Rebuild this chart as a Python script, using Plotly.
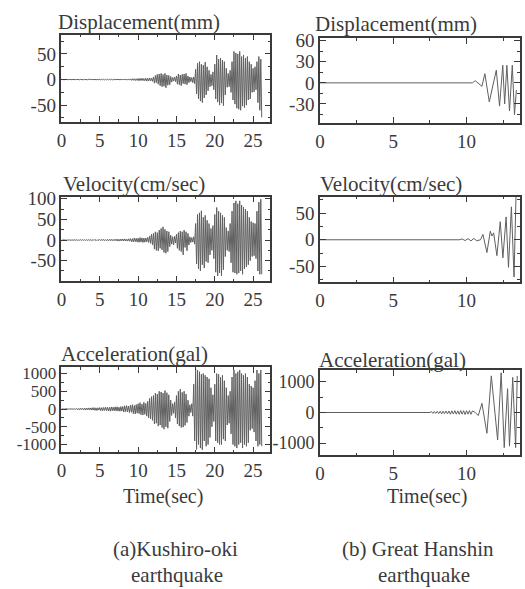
import numpy as np
import plotly.graph_objects as go

# ---------------- DATA ----------------
# Kushiro-oki: successive peak/trough values, one every DT_A seconds
DT_A = 0.125
kushiro_disp = [
    0.3,-0.2,0.2,-0.3,0.2,-0.2,0.3,-0.2,
    0.2,-0.3,0.3,-0.2,0.2,-0.3,0.2,-0.2,
    0.3,-0.3,0.4,-0.3,0.3,-0.4,0.3,-0.3,
    0.4,-0.3,0.3,-0.4,0.5,-0.4,0.3,-0.4,
    0.5,-0.4,0.6,-0.5,0.4,-0.5,0.6,-0.4,
    0.5,-0.6,0.7,-0.5,0.6,-0.7,0.5,-0.6,
    0.6,-0.5,0.8,-0.7,0.6,-0.8,0.7,-0.6,
    0.8,-0.7,0.9,-0.8,1.0,-0.8,0.7,-0.9,
    1.0,-0.9,1.2,-1.0,0.9,-1.1,1.2,-1.0,
    1.2,-1.5,1.8,-1.4,1.6,-2.0,1.5,-1.7,
    2.0,-2.4,2.2,-1.8,2.5,-2.2,1.9,-2.3,
    2.6,-3.0,2.4,-2.8,3.2,-2.6,3.0,-3.4,
    5,-7,8,-6,10,-9,11,-12,
    12,-14,10,-13,12,-16,9,-11,
    8,-10,6,-5,4,-3,5,-4,
    7,-9,11,-10,9,-12,10,-8,
    11,-9,12,-10,7,-6,5,-4,
    4,-6,5,-8,20,-28,32,-38,
    35,-42,30,-45,28,-36,34,-30,
    25,-22,18,-14,10,-12,15,-20,
    30,-38,48,-44,40,-50,42,-46,
    38,-51,35,-30,22,-15,12,-14,
    18,-25,35,-40,55,-48,52,-56,
    50,-58,55,-60,45,-52,48,-55,
    42,-50,45,-40,35,-38,30,-25,
    22,-24,25,-20,35,-45,45,-60,
    40,-74,
]
kushiro_vel = [
    0.5,-0.5,0.6,-0.4,0.5,-0.6,0.4,-0.5,
    0.6,-0.5,0.5,-0.7,0.6,-0.5,0.7,-0.6,
    0.7,-0.8,0.6,-0.7,0.9,-0.7,0.8,-0.6,
    0.8,-1.0,0.9,-0.8,1.1,-0.9,1.0,-1.2,
    1.0,-1.2,1.3,-1.1,1.0,-1.3,1.2,-1.0,
    1.4,-1.2,1.5,-1.3,1.6,-1.4,1.2,-1.5,
    1.5,-1.8,1.6,-1.4,1.9,-1.7,1.5,-1.6,
    2.0,-1.8,2.2,-2.5,1.9,-2.2,2.4,-2.0,
    2.5,-2.2,2.8,-2.4,2.2,-2.6,3.0,-2.5,
    3.5,-4.0,3.2,-4.5,5.0,-3.8,4.2,-5.0,
    4.5,-5.5,6.0,-4.8,5.2,-6.0,4.6,-5.2,
    5.0,-4.4,6.2,-5.8,10,-8,14,-12,
    16,-22,20,-25,18,-26,24,-20,
    28,-24,32,-30,26,-32,22,-28,
    20,-16,12,-10,8,-12,9,-7,
    14,-20,18,-25,22,-28,20,-36,
    24,-18,20,-26,16,-12,8,-6,
    6,-5,8,-10,40,-58,62,-70,
    66,-75,71,-60,55,-68,60,-52,
    48,-55,40,-36,28,-25,35,-45,
    62,-78,79,-87,70,-80,66,-87,
    60,-72,55,-40,30,-25,22,-28,
    40,-55,70,-78,90,-80,95,-83,
    88,-80,95,-75,85,-83,80,-70,
    75,-65,70,-60,55,-50,45,-40,
    42,-38,40,-45,70,-75,92,-83,
    99,-83,
]
kushiro_acc = [
    5,-5,6,-4,5,-6,4,-5,
    8,-10,12,-9,10,-12,9,-11,
    15,-20,18,-22,25,-18,20,-24,
    25,-30,28,-22,32,-26,30,-28,
    35,-30,40,-38,32,-42,36,-30,
    40,-45,38,-50,45,-40,52,-46,
    50,-55,45,-60,58,-48,55,-50,
    60,-52,65,-58,50,-62,68,-55,
    70,-85,90,-75,95,-80,85,-100,
    110,-90,120,-130,100,-140,125,-115,
    150,-130,180,-160,140,-170,190,-150,
    160,-200,220,-250,300,-280,350,-320,
    380,-420,450,-400,420,-480,500,-450,
    480,-520,450,-570,520,-500,460,-540,
    400,-350,250,-180,150,-120,200,-250,
    380,-420,500,-480,560,-520,470,-510,
    500,-460,420,-380,250,-200,120,-100,
    150,-200,700,-900,1140,-1140,1100,-1000,
    1050,-1100,980,-1150,1000,-900,950,-1050,
    900,-1000,850,-800,600,-500,400,-350,
    700,-900,1000,-950,980,-1000,900,-1000,
    950,-850,800,-900,600,-450,380,-400,
    500,-700,900,-1000,1100,-1050,1000,-1100,
    1050,-1000,1100,-950,1000,-1100,950,-1000,
    1000,-1050,900,-950,700,-600,650,-550,
    600,-650,800,-900,1100,-1050,1000,-1000,
    1100,-1050,
]

# Great Hanshin: (time, value) of read peaks/troughs
hanshin_disp_t = [0, 10.4, 10.6, 10.8, 11.05, 11.25, 11.55, 12.03, 12.25, 12.47, 12.6, 12.75, 12.93, 13.12, 13.27, 13.4]
hanshin_disp_v = [0, 0, 3, 0, -5, 13, -27, 18, -33, 25, -30, 25, -40, 25, -45, -10]

hanshin_vel_t = [0, 9.5, 9.7, 9.9, 10.1, 10.3, 10.5, 10.7, 10.95, 11.12, 11.39, 11.62, 11.73, 11.85, 12.07, 12.3, 12.48, 12.7, 12.86, 13.06, 13.24, 13.38]
hanshin_vel_v = [0, 0, 1.5, -1.5, 2, -2, 2.5, -2, 0, 10, -24, 16, 7, 13, -30, 34, -34, 43, -52, 62, -70, 90]

hanshin_acc_t = [0, 7.5, 7.6, 7.7, 7.8, 7.9, 8.0, 8.1, 8.2, 8.3, 8.4, 8.5, 8.6, 8.7, 8.8, 8.9,
                 9.0, 9.1, 9.2, 9.3, 9.4, 9.5, 9.6, 9.7, 9.8, 9.9, 10.0, 10.1, 10.2, 10.3, 10.4,
                 10.6, 10.8, 11.05, 11.39, 11.69, 12.12, 12.36, 12.57, 12.8, 12.93, 13.15, 13.35, 13.46]
hanshin_acc_v = [0, 0, 30, -30, 35, -30, 40, -35, 40, -45, 45, -40, 50, -45, 50, -55,
                 55, -50, 60, -55, 55, -60, 65, -55, 60, -65, 60, -55, 65, -60, 50,
                 0, -100, 300, -680, 1200, -900, 1300, -1150, 780, -1100, 1150, -1150, 1200]

# tick labels
disp_a_ticks = [-50, 0, 50]
vel_a_ticks = [-50, 0, 50, 100]
acc_a_ticks = [-1000, -500, 0, 500, 1000]
disp_b_ticks = [-30, 0, 30, 60]
vel_b_ticks = [-50, 0, 50]
acc_b_ticks = [-1000, 0, 1000]
time_a_ticks = [0, 5, 10, 15, 20, 25]
time_b_ticks = [0, 5, 10]

titles = ["Displacement(mm)", "Velocity(cm/sec)", "Acceleration(gal)"]
xlabel = "Time(sec)"
caption_a = ["(a)Kushiro-oki", "earthquake"]
caption_b = ["(b) Great Hanshin", "earthquake"]

# ---------------- FIGURE ----------------
W, H = 525, 589
FONT = "Liberation Serif, 'Times New Roman', Times, 'DejaVu Serif', serif"
INK = "#3a3a3a"
TRACE = "#606060"

def py(p):
    return 1 - p / H

def px(p):
    return p / W

def lbl(v):
    return str(v)  # plain hyphen minus

fig = go.Figure()

ta = [i * DT_A for i in range(len(kushiro_disp))]
series = [
    (ta, kushiro_disp), (hanshin_disp_t, hanshin_disp_v),
    (ta, kushiro_vel), (hanshin_vel_t, hanshin_vel_v),
    (ta, kushiro_acc), (hanshin_acc_t, hanshin_acc_v),
]
for i, (t, v) in enumerate(series):
    k = "" if i == 0 else str(i + 1)
    fig.add_trace(go.Scatter(x=t, y=v, mode="lines",
                             line=dict(color=TRACE, width=1),
                             xaxis="x" + k, yaxis="y" + k, showlegend=False,
                             hoverinfo="skip"))

# panel geometry: (x-domain px, y-domain px, x range, y range, yticks, minor y, xticks, minor x, ytick font)
panels = [
    ((57, 268), (27, 116), [0, 27.26], [-83, 88], disp_a_ticks, 25, time_a_ticks, 2.5, 19),
    ((318, 520), (31, 117), [0, 13.65], [-57, 63], disp_b_ticks, 15, time_b_ticks, 2.5, 19),
    ((57, 268), (192, 278), [0, 27.26], [-100, 105], vel_a_ticks, 25, time_a_ticks, 2.5, 19),
    ((318, 520), (192, 279), [0, 13.65], [-80, 81], vel_b_ticks, 25, time_b_ticks, 2.5, 19),
    ((57, 268), (365, 452), [0, 27.26], [-1220, 1190], acc_a_ticks, 250, time_a_ticks, 2.5, 17),
    ((318, 520), (368, 455), [0, 13.65], [-1400, 1400], acc_b_ticks, 500, time_b_ticks, 2.5, 18),
]

layout = dict(width=W, height=H, margin=dict(l=0, r=0, t=0, b=0),
              paper_bgcolor="white", plot_bgcolor="white", showlegend=False)

for i, (xd, yd, xr, yr, yt, ymin, xt, xmin, yfs) in enumerate(panels):
    k = "" if i == 0 else str(i + 1)
    common = dict(ticks="inside", ticklen=6, tickwidth=1, tickcolor=INK,
                  showline=True, linecolor=INK, linewidth=1.5, mirror="ticks",
                  showgrid=False, zeroline=False, tickmode="array")
    layout["xaxis" + k] = dict(common, domain=[px(xd[0]), px(xd[1])], range=xr,
                               tickvals=xt, ticktext=[lbl(v) for v in xt],
                               anchor="y" + k, ticklabelstandoff=0,
                               tickfont=dict(family=FONT, size=19, color=INK),
                               minor=dict(tickmode="linear", tick0=0, dtick=xmin,
                                          ticks="inside", ticklen=3, tickcolor=INK,
                                          showgrid=False))
    layout["yaxis" + k] = dict(common, domain=[py(yd[1]), py(yd[0])], range=yr,
                               tickvals=yt, ticktext=[lbl(v) for v in yt],
                               anchor="x" + k, ticklabelstandoff=0,
                               tickfont=dict(family=FONT, size=yfs, color=INK),
                               minor=dict(tickmode="linear", tick0=0, dtick=ymin,
                                          ticks="inside", ticklen=3, tickcolor=INK,
                                          showgrid=False))

fig.update_layout(**layout)

# text annotations (positions in pixels)
def text(s, x, y, size=21):
    fig.add_annotation(text=s, x=px(x), y=py(y), xref="paper", yref="paper",
                       xanchor="center", yanchor="middle", showarrow=False,
                       font=dict(family=FONT, size=size, color=INK))

text(titles[0], 135, 14)
text(titles[0], 395, 16)
text(titles[1], 130, 179)
text(titles[1], 390, 179)
text(titles[2], 131, 352)
text(titles[2], 391, 358)
text(xlabel, 160, 497, 20)
text(xlabel, 426, 497, 20)
text(caption_a[0], 172, 550)
text(caption_a[1], 174, 577)
text(caption_b[0], 417, 550)
text(caption_b[1], 423, 577)

fig.write_html("out.html")
